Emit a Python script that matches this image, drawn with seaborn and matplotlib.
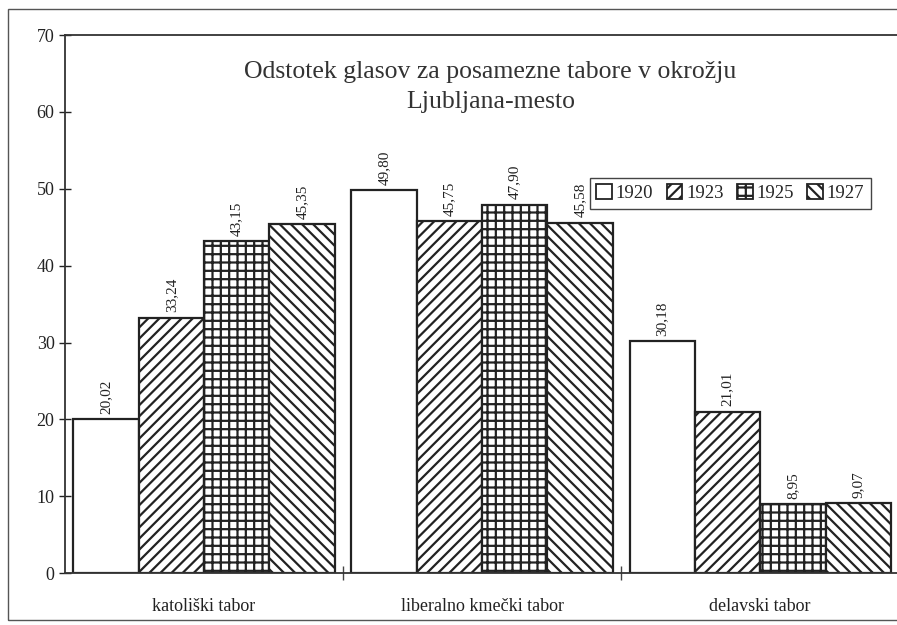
import pandas as pd
import seaborn as sns
import matplotlib.pyplot as plt
from matplotlib.patches import Patch, Rectangle

# ---------- data ----------
tabori = ["katoliški tabor", "liberalno kmečki tabor", "delavski tabor"]
leta = ["1920", "1923", "1925", "1927"]
v1920 = [20.02, 49.80, 30.18]
v1923 = [33.24, 45.75, 21.01]
v1925 = [43.15, 47.90, 8.95]
v1927 = [45.35, 45.58, 9.07]

rows = []
for leto, vals in zip(leta, [v1920, v1923, v1925, v1927]):
    for t, v in zip(tabori, vals):
        rows.append({"tabor": t, "leto": leto, "odstotek": v})
df = pd.DataFrame(rows)

sns.set_style("ticks")
plt.rcParams["font.family"] = ["Liberation Serif", "DejaVu Serif"]
plt.rcParams["hatch.linewidth"] = 1.6
plt.rcParams["hatch.color"] = "#222222"

hatches = {"1920": "", "1923": "///", "1925": "++", "1927": "\\\\\\"}

fig = plt.figure(figsize=(8.97, 6.25), dpi=100)
ax = fig.add_axes([0.0725, 0.083, 0.93, 0.861])

sns.barplot(data=df, x="tabor", y="odstotek", hue="leto", order=tabori,
            hue_order=leta, palette=["white"] * 4, width=0.94, gap=0,
            edgecolor="#222222", linewidth=1.6, legend=False, ax=ax)

for cont, leto in zip(ax.containers, leta):
    for bar in cont:
        bar.set_hatch(hatches[leto])
    ax.bar_label(cont, labels=[f"{b.get_height():.2f}".replace(".", ",") for b in cont],
                 rotation=90, padding=4, fontsize=11, color="#222222")

ax.set_ylim(0, 70)
ax.set_xlim(-0.5, 2.5)
ax.set_yticks(range(0, 71, 10))
ax.set_xlabel("")
ax.set_ylabel("")
ax.tick_params(axis="y", labelsize=13, direction="inout", length=8, width=1, colors="#222222")
ax.tick_params(axis="x", which="major", length=0, labelsize=13, pad=18, colors="#222222")
ax.set_xticks([0.5, 1.5], minor=True)
ax.tick_params(axis="x", which="minor", direction="inout", length=10, width=1, color="#444444")

for side in ["left", "bottom", "top"]:
    ax.spines[side].set_color("#333333")
    ax.spines[side].set_linewidth(1.3)
ax.spines["top"].set_visible(True)
ax.spines["top"].set_linestyle((0, (3, 1)))
ax.spines["right"].set_visible(False)

ax.text(0.51, 0.951, "Odstotek glasov za posamezne tabore v okrožju\nLjubljana-mesto",
        transform=ax.transAxes, ha="center", va="top", fontsize=18.5,
        linespacing=1.45, color="#333333")

handles = [Patch(facecolor="white", edgecolor="#222222", hatch=hatches[l], linewidth=1.3)
           for l in leta]
ax.legend(handles, leta, loc="upper right", bbox_to_anchor=(0.966, 0.735), ncol=4,
          fontsize=13.5, handlelength=0.85, handleheight=0.85, handletextpad=0.2,
          columnspacing=0.7, fancybox=False, edgecolor="#444444", framealpha=1,
          borderpad=0.35, borderaxespad=0)

# scanned page border
fig.patches.append(Rectangle((0.009, 0.008), 1.2, 0.977, transform=fig.transFigure,
                             fill=False, edgecolor="#555555", linewidth=1))

fig.savefig("out.png", dpi=100)
